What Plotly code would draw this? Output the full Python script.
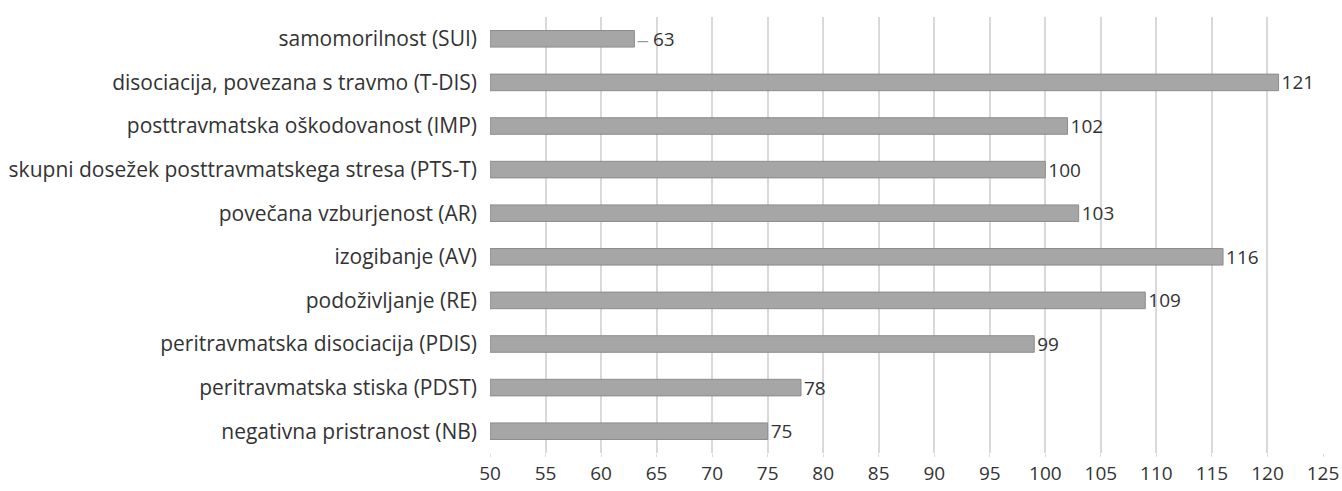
import plotly.graph_objects as go

categories = [
    "negativna pristranost (NB)",
    "peritravmatska stiska (PDST)",
    "peritravmatska disociacija (PDIS)",
    "podoživljanje (RE)",
    "izogibanje (AV)",
    "povečana vzburjenost (AR)",
    "skupni dosežek posttravmatskega stresa (PTS-T)",
    "posttravmatska oškodovanost (IMP)",
    "disociacija, povezana s travmo (T-DIS)",
    "samomorilnost (SUI)",
]
values = [75, 78, 99, 109, 116, 103, 100, 102, 121, 63]
has_leader = [False] * 9 + [True]
x_ticks = list(range(50, 126, 5))

font_family = "Open Sans, Liberation Sans, sans-serif"

labels = [
    ("<span style='color:#9a9a9a'>‒</span> " + str(v)) if lead else str(v)
    for v, lead in zip(values, has_leader)
]

fig = go.Figure(go.Bar(
    y=categories,
    x=[v - 50 for v in values],
    base=50,
    orientation="h",
    width=0.38,
    marker=dict(color="#a6a6a6", line=dict(color="#8c8c8c", width=1)),
    text=labels,
    textposition="outside",
    constraintext="none",
    textfont=dict(size=19, color="#333333", family=font_family),
    cliponaxis=False,
))

fig.update_layout(
    width=1342, height=491,
    margin=dict(l=490, r=19, t=17, b=38),
    plot_bgcolor="white", paper_bgcolor="white",
    showlegend=False,
    font=dict(family=font_family, size=19, color="#333333"),
    xaxis=dict(
        range=[50, 125], tickvals=x_ticks, showgrid=True,
        gridcolor="#d9d9d9", gridwidth=1.5, zeroline=False,
        ticks="outside", ticklen=3, tickcolor="#d9d9d9",
        tickfont=dict(size=19, color="#333333"), showline=False,
        automargin=False,
    ),
    yaxis=dict(
        showgrid=False, ticks="", ticklabelstandoff=12,
        tickfont=dict(size=21, color="#333333"), automargin=False,
    ),
)

fig.write_html(
    "out.html",
    config={"displayModeBar": False},
    post_script="document.body.style.margin='0';document.body.style.overflow='hidden';",
)
